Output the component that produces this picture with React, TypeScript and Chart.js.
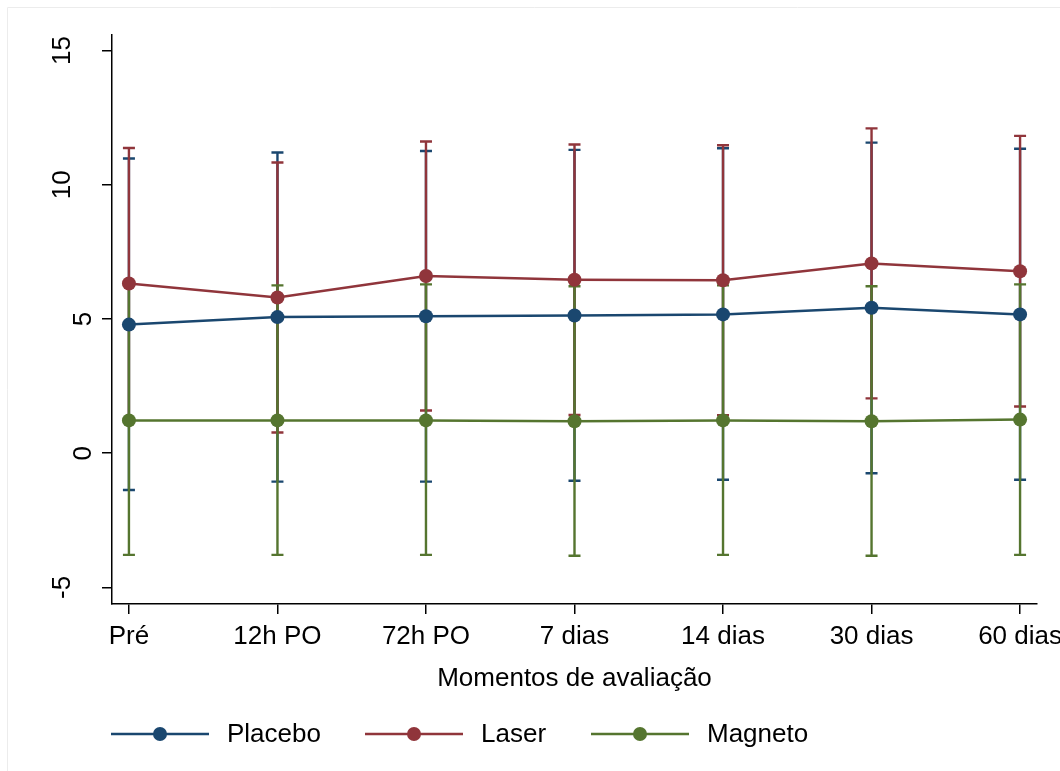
import React, { useEffect, useRef } from 'react';
import { Chart, registerables } from 'chart.js';

Chart.register(...registerables);

const FONT = '"Liberation Sans", Arial, Helvetica, sans-serif';
const FS = 26;

// ---- data ----
const categories = ['Pré', '12h PO', '72h PO', '7 dias', '14 dias', '30 dias', '60 dias'];
const yTicks = [-5, 0, 5, 10, 15];

const placeboMean = [4.79, 5.07, 5.10, 5.13, 5.17, 5.42, 5.17];
const placeboHigh = [10.98, 11.20, 11.26, 11.30, 11.36, 11.57, 11.34];
const placeboLow = [-1.37, -1.06, -1.06, -1.03, -0.99, -0.75, -0.99];

const laserMean = [6.32, 5.80, 6.60, 6.46, 6.44, 7.07, 6.78];
const laserHigh = [11.37, 10.83, 11.61, 11.50, 11.47, 12.10, 11.82];
const laserLow = [1.27, 0.77, 1.59, 1.42, 1.41, 2.04, 1.74];

const magnetoMean = [1.22, 1.22, 1.22, 1.19, 1.22, 1.19, 1.25];
const magnetoHigh = [6.25, 6.25, 6.29, 6.22, 6.25, 6.22, 6.29];
const magnetoLow = [-3.79, -3.79, -3.79, -3.82, -3.79, -3.82, -3.79];

const seriesNames = ['Placebo', 'Laser', 'Magneto'];
const seriesColors = ['#1a476f', '#90353b', '#55752f'];

const series = [
  { name: seriesNames[0], color: seriesColors[0], mean: placeboMean, low: placeboLow, high: placeboHigh },
  { name: seriesNames[1], color: seriesColors[1], mean: laserMean, low: laserLow, high: laserHigh },
  { name: seriesNames[2], color: seriesColors[2], mean: magnetoMean, low: magnetoLow, high: magnetoHigh },
];

const errorBarPlugin = {
  id: 'errorBars',
  beforeDatasetsDraw(chart: any) {
    const ctx = chart.ctx;
    const xs = chart.scales.x;
    const ys = chart.scales.y;
    ctx.save();
    series.forEach((s) => {
      ctx.strokeStyle = s.color;
      ctx.lineWidth = 2.4;
      ctx.lineCap = 'butt';
      s.low.forEach((lo, i) => {
        const x = xs.getPixelForValue(i);
        const y1 = ys.getPixelForValue(lo);
        const y2 = ys.getPixelForValue(s.high[i]);
        ctx.beginPath();
        ctx.moveTo(x, y1);
        ctx.lineTo(x, y2);
        ctx.moveTo(x - 6, y1);
        ctx.lineTo(x + 6, y1);
        ctx.moveTo(x - 6, y2);
        ctx.lineTo(x + 6, y2);
        ctx.stroke();
      });
    });
    ctx.restore();
  },
};

const decorPlugin = {
  id: 'decor',
  afterDraw(chart: any) {
    const ctx = chart.ctx;
    const ys = chart.scales.y;
    ctx.save();
    // outer frame
    ctx.strokeStyle = '#ececec';
    ctx.lineWidth = 1;
    ctx.beginPath();
    ctx.moveTo(7.5, 780);
    ctx.lineTo(7.5, 7.5);
    ctx.lineTo(1070, 7.5);
    ctx.stroke();

    // rotated y tick labels
    ctx.fillStyle = '#000';
    ctx.font = `${FS}px ${FONT}`;
    ctx.textAlign = 'center';
    ctx.textBaseline = 'alphabetic';
    yTicks.forEach((v) => {
      const label = String(v);
      const y = ys.getPixelForValue(v);
      const bx = 91 - 21 * (label.length - 1);
      ctx.save();
      ctx.translate(bx, y);
      ctx.rotate(-Math.PI / 2);
      ctx.fillText(label, 0, 0);
      ctx.restore();
    });

    // legend
    const legendX = [111, 365, 591];
    const ly = 734;
    series.forEach((s, i) => {
      const x0 = legendX[i];
      ctx.strokeStyle = s.color;
      ctx.lineWidth = 2.5;
      ctx.beginPath();
      ctx.moveTo(x0, ly);
      ctx.lineTo(x0 + 98, ly);
      ctx.stroke();
      ctx.fillStyle = s.color;
      ctx.beginPath();
      ctx.arc(x0 + 49, ly, 7, 0, Math.PI * 2);
      ctx.fill();
      ctx.fillStyle = '#000';
      ctx.textAlign = 'left';
      ctx.textBaseline = 'middle';
      ctx.fillText(s.name, x0 + 116, ly + 1);
    });
    ctx.restore();
  },
};

export default function App() {
  const ref = useRef<HTMLCanvasElement>(null);

  useEffect(() => {
    if (!ref.current) return;
    const chart = new Chart(ref.current, {
      type: 'line',
      data: {
        datasets: series.map((s, idx) => ({
          label: s.name,
          data: s.mean.map((m, i) => ({ x: i, y: m })),
          borderColor: s.color,
          backgroundColor: s.color,
          pointBackgroundColor: s.color,
          pointBorderWidth: 0,
          pointRadius: 7,
          borderWidth: 2.5,
          tension: 0,
          fill: false,
          order: 3 - idx,
        })),
      },
      plugins: [errorBarPlugin, decorPlugin],
      options: {
        responsive: false,
        animation: false,
        devicePixelRatio: 1,
        layout: { autoPadding: false, padding: { left: 0, top: 35, right: 23, bottom: 77 } },
        plugins: { legend: { display: false }, tooltip: { enabled: false }, title: { display: false } },
        scales: {
          x: {
            type: 'linear',
            min: -0.114,
            max: 6.114,
            afterBuildTicks: (scale: any) => {
              scale.ticks = categories.map((_, i) => ({ value: i }));
            },
            afterFit: (scale: any) => {
              scale.height = 90;
              scale.paddingLeft = 0;
              scale.paddingRight = 0;
            },
            ticks: {
              autoSkip: false,
              maxRotation: 0,
              minRotation: 0,
              padding: 7,
              color: '#000',
              font: { family: FONT, size: FS },
              callback: (v: any) => categories[Math.round(Number(v))] ?? '',
            },
            grid: {
              display: true,
              drawOnChartArea: false,
              drawTicks: true,
              tickLength: 10,
              color: '#000',
              lineWidth: 1.5,
            },
            border: { display: true, color: '#000', width: 1.5 },
            title: {
              display: true,
              text: 'Momentos de avaliação',
              color: '#000',
              font: { family: FONT, size: FS },
              padding: 0,
            },
          },
          y: {
            type: 'linear',
            min: -5.62,
            max: 15.58,
            afterBuildTicks: (scale: any) => {
              scale.ticks = yTicks.map((v) => ({ value: v }));
            },
            afterFit: (scale: any) => {
              scale.width = 112;
              scale.paddingTop = 0;
              scale.paddingBottom = 0;
            },
            ticks: { display: false },
            grid: {
              display: true,
              drawOnChartArea: false,
              drawTicks: true,
              tickLength: 10,
              color: '#000',
              lineWidth: 1.5,
            },
            border: { display: true, color: '#000', width: 1.5 },
          },
        },
      },
    } as any);
    return () => chart.destroy();
  }, []);

  return (
    <div style={{ position: 'absolute', left: 0, top: 0, width: 1060, height: 771, background: '#fff' }}>
      <canvas ref={ref} width={1060} height={771} style={{ display: 'block' }} />
    </div>
  );
}
